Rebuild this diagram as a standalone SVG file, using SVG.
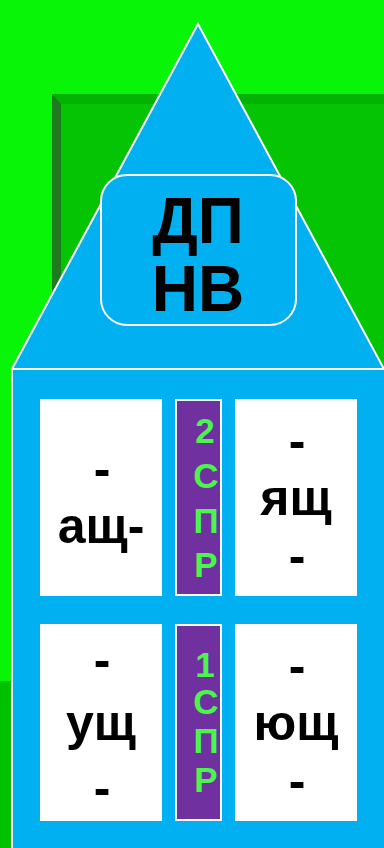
<svg xmlns="http://www.w3.org/2000/svg" width="384" height="848" viewBox="0 0 384 848">
<style>
.blue{fill:#00B0F0;stroke:#FFFFFF;stroke-width:2}
.card{fill:#FFFFFF}
.strip{fill:#7030A0;stroke:#FFFFFF;stroke-width:2}
.t{font-family:"Liberation Sans",Arial,sans-serif;font-weight:bold;fill:#000000;text-anchor:middle}
.g{font-family:"Liberation Sans",Arial,sans-serif;font-weight:bold;fill:#4CF54C;text-anchor:middle;font-size:35px}
</style>
<g id="background">
<rect x="0" y="0" width="384" height="848" fill="#08F508"/>
<rect x="52" y="94" width="332" height="754" fill="#04C404"/>
<polygon points="52,94 384,94 384,104 61,104" fill="#03B203"/>
<polygon points="52,94 61,104 61,848 52,848" fill="#1E7A1E"/>
<rect x="0" y="681" width="12" height="167" fill="#00C000"/>
</g>
<g id="roof">
<polygon class="blue" points="198,24 12,369 384,369"/>
</g>
<g id="title">
<rect class="blue" x="101" y="175" width="195" height="150" rx="26" ry="26"/>
<text class="t" x="198" y="243" font-size="64">ДП</text>
<text class="t" x="198" y="311" font-size="64">НВ</text>
</g>
<g id="house">
<rect class="blue" x="12" y="369" width="374" height="481"/>
</g>
<g id="card-ash">
<rect class="card" x="40" y="399" width="122" height="197"/>
<text class="t" x="102" y="486" font-size="50">-</text>
<text class="t" x="101" y="543" font-size="50">ащ-</text>
</g>
<g id="strip-2">
<rect class="strip" x="176" y="400" width="45" height="195"/>
<text class="g" x="205" y="443">2</text>
<text class="g" x="206" y="488">С</text>
<text class="g" x="206" y="533">П</text>
<text class="g" x="206" y="577">Р</text>
</g>
<g id="card-yash">
<rect class="card" x="235" y="399" width="122" height="197"/>
<text class="t" x="297" y="458" font-size="50">-</text>
<text class="t" x="296" y="515" font-size="50">ящ</text>
<text class="t" x="297" y="573" font-size="50">-</text>
</g>
<g id="card-ush">
<rect class="card" x="40" y="624" width="122" height="197"/>
<text class="t" x="102" y="677" font-size="50">-</text>
<text class="t" x="101" y="740" font-size="50">ущ</text>
<text class="t" x="102" y="805" font-size="50">-</text>
</g>
<g id="strip-1">
<rect class="strip" x="176" y="625" width="45" height="195"/>
<text class="g" x="205" y="677">1</text>
<text class="g" x="206" y="714">С</text>
<text class="g" x="206" y="753">П</text>
<text class="g" x="206" y="792">Р</text>
</g>
<g id="card-yush">
<rect class="card" x="235" y="624" width="122" height="197"/>
<text class="t" x="297" y="683" font-size="50">-</text>
<text class="t" x="296" y="740" font-size="50">ющ</text>
<text class="t" x="297" y="798" font-size="50">-</text>
</g>
<g id="connectors"></g>
</svg>
